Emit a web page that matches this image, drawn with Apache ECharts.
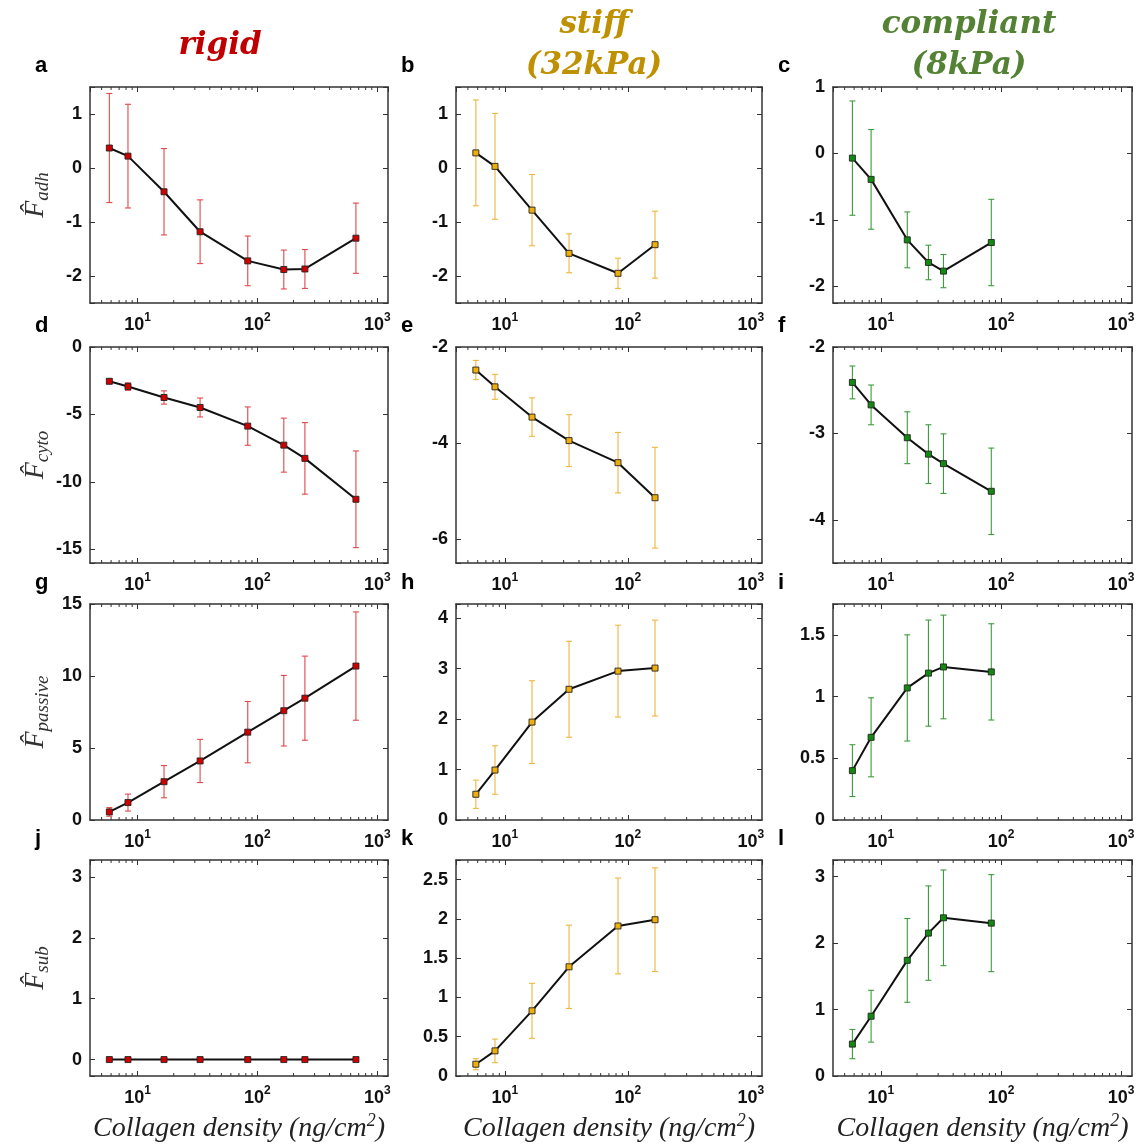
<!DOCTYPE html>
<html><head><meta charset="utf-8">
<script src="https://cdn.jsdelivr.net/npm/echarts@6/dist/echarts.min.js"></script>
<style>html,body{margin:0;padding:0;background:#fff}#c{width:1143px;height:1147px}</style>
</head><body><div id="c"></div>
<script>
// ---- data ----
const xRigid = [5.8, 8.3, 16.6, 33.2, 83, 166, 249, 664];
const xStiff = [5.8, 8.3, 16.6, 33.2, 83, 166];
const xCompliant = [5.8, 8.3, 16.6, 24.9, 33.2, 83];

const adhRigid = [0.37, 0.22, -0.44, -1.18, -1.72, -1.88, -1.87, -1.30];
const adhRigidErr = [1.01, 0.96, 0.80, 0.59, 0.46, 0.36, 0.36, 0.65];
const adhStiff = [0.28, 0.03, -0.78, -1.58, -1.95, -1.42];
const adhStiffErr = [0.98, 0.98, 0.66, 0.36, 0.28, 0.62];
const adhCompliant = [-0.07, -0.39, -1.30, -1.64, -1.77, -1.34];
const adhCompliantErr = [0.86, 0.75, 0.42, 0.26, 0.25, 0.65];

const cytoRigid = [-2.54, -2.93, -3.74, -4.48, -5.86, -7.27, -8.25, -11.28];
const cytoRigidErr = [0.17, 0.28, 0.49, 0.70, 1.42, 2.0, 2.65, 3.58];
const cytoStiff = [-2.48, -2.83, -3.46, -3.95, -4.41, -5.14];
const cytoStiffErr = [0.20, 0.26, 0.40, 0.54, 0.63, 1.05];
const cytoCompliant = [-2.41, -2.67, -3.05, -3.24, -3.35, -3.67];
const cytoCompliantErr = [0.19, 0.23, 0.30, 0.34, 0.345, 0.50];

const passRigid = [0.56, 1.21, 2.66, 4.10, 6.10, 7.59, 8.46, 10.69];
const passRigidErr = [0.30, 0.59, 1.12, 1.50, 2.13, 2.45, 2.92, 3.76];
const passStiff = [0.51, 0.99, 1.94, 2.59, 2.95, 3.01];
const passStiffErr = [0.28, 0.48, 0.82, 0.95, 0.91, 0.95];
const passCompliant = [0.40, 0.67, 1.07, 1.19, 1.24, 1.20];
const passCompliantErr = [0.21, 0.32, 0.43, 0.43, 0.42, 0.39];

const subRigid = [0, 0, 0, 0, 0, 0, 0, 0];
const subRigidErr = [0, 0, 0, 0, 0, 0, 0, 0];
const subStiff = [0.15, 0.32, 0.83, 1.39, 1.91, 1.99];
const subStiffErr = [0.07, 0.15, 0.35, 0.53, 0.61, 0.66];
const subCompliant = [0.48, 0.90, 1.74, 2.15, 2.38, 2.30];
const subCompliantErr = [0.22, 0.39, 0.63, 0.71, 0.72, 0.73];

const minorTickVals = [5, 6, 7, 8, 9, 20, 30, 40, 50, 60, 70, 80, 90, 200, 300, 400, 500, 600, 700, 800, 900];
const yNames = ['adh', 'cyto', 'passive', 'sub'];
const colTitles = [['rigid'], ['stiff', '(32kPa)'], ['compliant', '(8kPa)']];
const letters = ['a','b','c','d','e','f','g','h','i','j','k','l'];

// ---- layout / style ----
const colLeft = [90, 456, 833], colWidth = [298, 306, 299];
const rowTop = [87, 347, 604, 860], rowH = 216;
const markerColors = ['#d00000', '#f0ae0a', '#128a12'];
const errColors = ['#e2474a', '#f0b53e', '#3c9c3c'];
const titleColors = ['#c00000', '#bf9000', '#548235'];
const axisColor = '#333';

const panels = [
  {x: xRigid, y: adhRigid, e: adhRigidErr, min: -2.5, max: 1.5, step: 1},
  {x: xStiff, y: adhStiff, e: adhStiffErr, min: -2.5, max: 1.5, step: 1},
  {x: xCompliant, y: adhCompliant, e: adhCompliantErr, min: -2.25, max: 1, step: 1},
  {x: xRigid, y: cytoRigid, e: cytoRigidErr, min: -16, max: 0, step: 5},
  {x: xStiff, y: cytoStiff, e: cytoStiffErr, min: -6.5, max: -2, step: 2},
  {x: xCompliant, y: cytoCompliant, e: cytoCompliantErr, min: -4.5, max: -2, step: 1},
  {x: xRigid, y: passRigid, e: passRigidErr, min: 0, max: 15, step: 5},
  {x: xStiff, y: passStiff, e: passStiffErr, min: 0, max: 4.28, step: 1},
  {x: xCompliant, y: passCompliant, e: passCompliantErr, min: 0, max: 1.75, step: 0.5},
  {x: xRigid, y: subRigid, e: subRigidErr, min: -0.27, max: 3.28, step: 1},
  {x: xStiff, y: subStiff, e: subStiffErr, min: 0, max: 2.75, step: 0.5},
  {x: xCompliant, y: subCompliant, e: subCompliantErr, min: 0, max: 3.25, step: 1}
];

const grids = [], xAxes = [], yAxes = [], series = [], graphics = [];
const lblFont = 'Liberation Sans';
const serif = 'Liberation Serif';

panels.forEach((p, i) => {
  const row = Math.floor(i / 3), col = i % 3;
  grids.push({left: colLeft[col], top: rowTop[row], width: colWidth[col], height: rowH});
  const xBase = {
    type: 'log', logBase: 10, min: 4, max: 1230, gridIndex: i,
    axisLine: {show: true, onZero: false, lineStyle: {color: axisColor, width: 1.5}},
    axisTick: {show: true, inside: true, length: 5, lineStyle: {color: axisColor, width: 1}},
    splitLine: {show: false}, minorTick: {show: false}, minorSplitLine: {show: false}
  };
  const xMain = Object.assign({}, xBase, {
    position: 'bottom',
    axisLabel: {
      show: true, margin: 9, showMinLabel: false, showMaxLabel: false,
      formatter: v => {
        const e = Math.round(Math.log10(v));
        if (Math.abs(v - Math.pow(10, e)) > 1e-6 * v) return '';
        return '{b|10}{s|' + e + '}';
      },
      rich: {
        b: {fontFamily: lblFont, fontWeight: 'bold', fontSize: 18, color: '#111', lineHeight: 22, verticalAlign: 'bottom'},
        s: {fontFamily: lblFont, fontWeight: 'bold', fontSize: 12, color: '#111', lineHeight: 12, verticalAlign: 'top'}
      }
    }
  });
  if (row === 3) {
    Object.assign(xMain, {
      name: '{t|Collagen density (ng/cm}{p|2}{t|)}',
      nameLocation: 'middle', nameGap: 36,
      nameTextStyle: {rich: {
        t: {fontFamily: serif, fontStyle: 'italic', fontSize: 28, color: '#222', lineHeight: 31, verticalAlign: 'bottom'},
        p: {fontFamily: serif, fontStyle: 'italic', fontSize: 18, color: '#222', lineHeight: 17, verticalAlign: 'top'}
      }}
    });
  }
  xAxes.push(xMain);
  xAxes.push(Object.assign({}, xBase, {position: 'top', axisLabel: {show: false}}));

  const fmt = v => (Math.abs(v / p.step - Math.round(v / p.step)) < 1e-6 ? String(+v.toFixed(2)) : '');
  const yBase = {
    type: 'value', min: p.min, max: p.max, minInterval: p.step, maxInterval: p.step, gridIndex: i,
    axisLine: {show: true, onZero: false, lineStyle: {color: axisColor, width: 1.5}},
    axisTick: {show: true, inside: true, length: 5, lineStyle: {color: axisColor, width: 1}},
    splitLine: {show: false}
  };
  const yMain = Object.assign({}, yBase, {
    position: 'left',
    axisLabel: {show: true, margin: 8, formatter: fmt, fontFamily: lblFont, fontWeight: 'bold', fontSize: 18, color: '#111'}
  });
  if (col === 0) {
    Object.assign(yMain, {
      name: '{f|F\u0302}{s|' + yNames[row] + '}',
      nameLocation: 'middle', nameRotate: 90, nameGap: 38,
      nameTextStyle: {rich: {
        f: {fontFamily: serif, fontStyle: 'italic', fontSize: 28, color: '#333', lineHeight: 30, verticalAlign: 'top'},
        s: {fontFamily: serif, fontStyle: 'italic', fontSize: 19, color: '#333', lineHeight: 17, verticalAlign: 'bottom'}
      }}
    });
  }
  yAxes.push(yMain);
  yAxes.push(Object.assign({}, yBase, {position: 'right', axisLabel: {show: false}}));

  const xi = 2 * i, yi = 2 * i;
  const pts = p.x.map((xv, k) => [xv, p.y[k], p.e[k]]);
  const ecol = errColors[col];
  series.push({
    type: 'custom', xAxisIndex: xi, yAxisIndex: yi, z: 2, silent: true,
    data: pts.filter(d => d[2] > 0),
    renderItem: (params, api) => {
      const xv = api.value(0), m = api.value(1), er = api.value(2);
      const top = api.coord([xv, m + er]), bot = api.coord([xv, m - er]);
      const st = {stroke: ecol, lineWidth: 1.1};
      return {type: 'group', children: [
        {type: 'line', shape: {x1: top[0], y1: top[1], x2: bot[0], y2: bot[1]}, style: st},
        {type: 'line', shape: {x1: top[0] - 3, y1: top[1], x2: top[0] + 3, y2: top[1]}, style: st},
        {type: 'line', shape: {x1: bot[0] - 3, y1: bot[1], x2: bot[0] + 3, y2: bot[1]}, style: st}
      ]};
    }
  });
  series.push({
    type: 'line', xAxisIndex: xi, yAxisIndex: yi, z: 4,
    data: pts.map(d => [d[0], d[1]]),
    symbol: 'rect', symbolSize: 6, showSymbol: true,
    lineStyle: {color: '#111', width: 2},
    itemStyle: {color: markerColors[col], borderColor: '#222', borderWidth: 0.9},
    silent: true
  });
  series.push({
    type: 'custom', xAxisIndex: xi, yAxisIndex: yi, z: 5, silent: true,
    data: minorTickVals.map(v => [v, p.min]),
    renderItem: (params, api) => {
      const pt = api.coord([api.value(0), api.value(1)]);
      const cs = params.coordSys;
      const st = {stroke: axisColor, lineWidth: 1};
      return {type: 'group', children: [
        {type: 'line', shape: {x1: pt[0], y1: cs.y + cs.height, x2: pt[0], y2: cs.y + cs.height - 3}, style: st},
        {type: 'line', shape: {x1: pt[0], y1: cs.y, x2: pt[0], y2: cs.y + 3}, style: st}
      ]};
    }
  });

  // panel letter
  graphics.push({
    type: 'text', left: colLeft[col] - 55, top: rowTop[row] - 32,
    style: {text: letters[i], font: 'bold 22px "Liberation Sans"', fill: '#000'}
  });
});

// column titles
const titleCenters = [220, 594, 969];
colTitles.forEach((lines, c) => {
  lines.forEach((t, k) => {
    const yc = lines.length === 1 ? 46 : (k === 0 ? 25 : 66);
    graphics.push({
      type: 'text', x: titleCenters[c], y: yc,
      style: {text: t, font: 'italic bold 31px "DejaVu Serif"', fill: titleColors[c], align: 'center', verticalAlign: 'middle'}
    });
  });
});

const chart = echarts.init(document.getElementById('c'), null, {renderer: 'canvas'});
chart.setOption({
  animation: false,
  backgroundColor: '#fff',
  grid: grids, xAxis: xAxes, yAxis: yAxes, series: series,
  graphic: graphics
});
</script></body></html>
